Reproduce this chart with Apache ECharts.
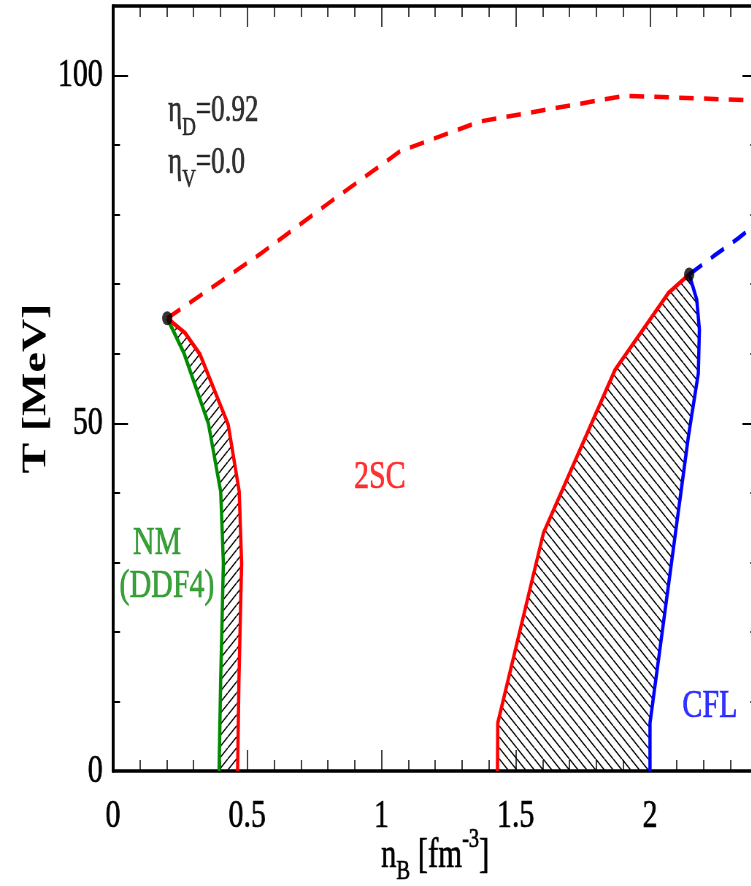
<!DOCTYPE html>
<html>
<head>
<meta charset="utf-8">
<script src="https://cdn.jsdelivr.net/npm/echarts@6/dist/echarts.min.js"></script>
<style>
html, body { margin:0; padding:0; width:751px; height:886px; overflow:hidden; background:#fff; }
#c { width:1050px; height:886px; transform: scaleX(0.73); transform-origin: 0 0; }
</style>
</head>
<body>
<div id="c"></div>
<script>
// ---- data (n_B [fm^-3], T [MeV]) ----
var xTicksMajor = [0, 0.5, 1, 1.5, 2];
var yTicksMajor = [0, 50, 100];
var nmGreen = [[0.202,65.1],[0.264,60.1],[0.355,50.0],[0.401,40.2],[0.411,29.9],[0.401,13.1],[0.395,0]];
var nmRed   = [[0.202,65.1],[0.268,63.0],[0.324,59.9],[0.429,49.8],[0.470,40.2],[0.479,29.9],[0.469,13.1],[0.464,0]];
var cflRed  = [[1.432,0],[1.433,6.9],[1.603,34.2],[1.870,57.7],[2.068,68.7],[2.146,71.4]];
var cflBlue = [[2.146,71.4],[2.174,67.8],[2.184,63.5],[2.180,57.2],[2.143,48.1],[2.000,6.9],[2.000,0]];
var redDashed  = [[0.202,65.1],[0.547,74.3],[0.808,81.8],[1.069,89.1],[1.367,93.4],[1.907,97.1],[2.40,96.4]];
var blueDashed = [[2.146,71.4],[2.236,74.0],[2.329,76.6],[2.40,78.8]];
var criticalPoints = [[0.202,65.1],[2.146,71.4]];
var labels = [
  {pos:[0.994,42.2], text:'{r|2SC}', align:'center'},
  {pos:[0.164,32.7], text:'{g|NM}', align:'center'},
  {pos:[0.201,26.5], text:'{g|(DDF4)}', align:'center'},
  {pos:[2.223,9.35], text:'{b|CFL}', align:'center'},
  {pos:[0.205,94.9], text:'{k|η}{ks|D}{k|=0.92}', align:'left'},
  {pos:[0.205,87.4], text:'{k|η}{ks|V}{k|=0.0}', align:'left'}
];

var FONT = 'Liberation Serif';

function hatch(dir) {
  var w = 12, h = 11;
  var cv = document.createElement('canvas');
  cv.width = w; cv.height = h;
  var ctx = cv.getContext('2d');
  ctx.strokeStyle = '#000';
  ctx.lineWidth = 1.5;
  for (var k = -1; k <= 1; k++) {
    ctx.beginPath();
    if (dir === 'back') { ctx.moveTo(k*w, 0); ctx.lineTo(k*w + w, h); }
    else { ctx.moveTo(k*w, h); ctx.lineTo(k*w + w, 0); }
    ctx.stroke();
  }
  return {image: cv, repeat: 'repeat'};
}
var patFwd = hatch('fwd'), patBack = hatch('back');

function polySeries(poly, pat) {
  return {
    type: 'custom', xAxisIndex: 0, yAxisIndex: 0, z: 1, silent: true,
    data: [[0, 0]],
    renderItem: function (params, api) {
      var pts = poly.map(function (p) { return api.coord(p); });
      return { type: 'polygon', shape: { points: pts }, style: { fill: pat, stroke: null } };
    }
  };
}
function lineSeries(d, color, dashed) {
  return {
    type: 'line', xAxisIndex: 0, yAxisIndex: 0, z: 2, data: d, showSymbol: false, symbol: 'none',
    lineStyle: { color: color, width: 4.5, type: dashed ? [20, 14] : 'solid' }, silent: true
  };
}
function txt(size, color, extra) {
  var o = {fontFamily: FONT, fontSize: size, color: color, textBorderColor: color, textBorderWidth: 0.7};
  return Object.assign(o, extra || {});
}

var axisCommon = { min: 0, type: 'value', splitLine: {show:false}, axisLine: {onZero:false, lineStyle:{color:'#000', width:3.5}} };
var chart = echarts.init(document.getElementById('c'));
chart.setOption({
  animation: false,
  backgroundColor: '#fff',
  grid: { left: 154.8, right: 12.5, top: 6, bottom: 115, containLabel: false, outerBoundsMode: 'none' },
  xAxis: [
    Object.assign({}, axisCommon, { position:'bottom', max: 2.4, interval: 0.5,
      axisTick: {inside:true, length:21, lineStyle:{color:'#000', width:1.5}},
      axisLabel: Object.assign(txt(41, '#000'), {showMaxLabel:false, margin: 25,
        formatter: function (v) { return xTicksMajor.indexOf(v) >= 0 ? String(v) : ''; }}),
      name: '{n|n}{s|B}{n| [fm}{p|-3}{n|]}', nameLocation: 'middle', nameGap: 55, nameMoveOverlap: false,
      nameTextStyle: { rich: {
        n: txt(42, '#000', {lineHeight: 60}),
        s: txt(28, '#000', {verticalAlign:'bottom', lineHeight: 18}),
        p: txt(28, '#000', {verticalAlign:'top', lineHeight: 46})
      }}
    }),
    Object.assign({}, axisCommon, { position:'top', max: 2.4, interval: 0.5,
      axisTick: {inside:true, length:21, lineStyle:{color:'#000', width:1.5}}, axisLabel:{show:false} }),
    Object.assign({}, axisCommon, { position:'bottom', max: 2.4, interval: 0.1, axisLine:{show:false, onZero:false},
      axisTick: {inside:true, length:11, lineStyle:{color:'#000', width:1.5}}, axisLabel:{show:false} }),
    Object.assign({}, axisCommon, { position:'top', max: 2.4, interval: 0.1, axisLine:{show:false, onZero:false},
      axisTick: {inside:true, length:11, lineStyle:{color:'#000', width:1.5}}, axisLabel:{show:false} })
  ],
  yAxis: [
    Object.assign({}, axisCommon, { position:'left', max: 110, interval: 50,
      axisLine: {onZero:false, lineStyle:{color:'#000', width:4}},
      axisTick: {inside:true, length:20.5, lineStyle:{color:'#000', width:2}},
      axisLabel: Object.assign(txt(41, '#000'), {showMaxLabel:false, margin: 14,
        formatter: function (v) { return yTicksMajor.indexOf(v) >= 0 ? String(v) : ''; }}),
      name: 'T [MeV]', nameLocation: 'middle', nameGap: 82, nameMoveOverlap: false,
      nameTextStyle: {fontFamily: FONT, fontWeight: 'bold', fontSize: 46, color:'#000'}
    }),
    Object.assign({}, axisCommon, { position:'right', max: 110, interval: 50,
      axisLine: {onZero:false, lineStyle:{color:'#000', width:4}},
      axisTick: {inside:true, length:20.5, lineStyle:{color:'#000', width:2}}, axisLabel:{show:false} }),
    Object.assign({}, axisCommon, { position:'left', max: 110, interval: 10, axisLine:{show:false, onZero:false},
      axisTick: {inside:true, length:9.6, lineStyle:{color:'#000', width:2}}, axisLabel:{show:false} }),
    Object.assign({}, axisCommon, { position:'right', max: 110, interval: 10, axisLine:{show:false, onZero:false},
      axisTick: {inside:true, length:9.6, lineStyle:{color:'#000', width:2}}, axisLabel:{show:false} })
  ],
  series: [
    polySeries(nmGreen.concat(nmRed.slice().reverse()), patFwd),
    polySeries(cflRed.concat(cflBlue), patBack),
    lineSeries(redDashed, '#ff0000', true),
    lineSeries(blueDashed, '#0000ff', true),
    lineSeries(nmGreen, '#008b00', false),
    lineSeries(nmRed, '#ff0000', false),
    lineSeries(cflRed, '#ff0000', false),
    lineSeries(cflBlue, '#0000ff', false),
    { type:'scatter', xAxisIndex:0, yAxisIndex:0, z:3, data: criticalPoints, symbol:'circle', symbolSize: 14,
      itemStyle:{color:'#000'}, silent:true },
    { type:'scatter', xAxisIndex:0, yAxisIndex:0, z:4, silent:true, symbolSize: 0,
      data: labels.map(function (l) {
        return { value: l.pos, label: { show:true, position:'inside', formatter: l.text, align: l.align, verticalAlign:'middle',
          rich: {
            r: txt(41, '#ff0000'),
            g: txt(41, '#0a8a0a'),
            b: txt(41, '#0000ff'),
            k: txt(37, '#000', {lineHeight:60}),
            ks: txt(26, '#000', {verticalAlign:'bottom', lineHeight:24})
          } } };
      })
    }
  ]
});
</script>
</body>
</html>
